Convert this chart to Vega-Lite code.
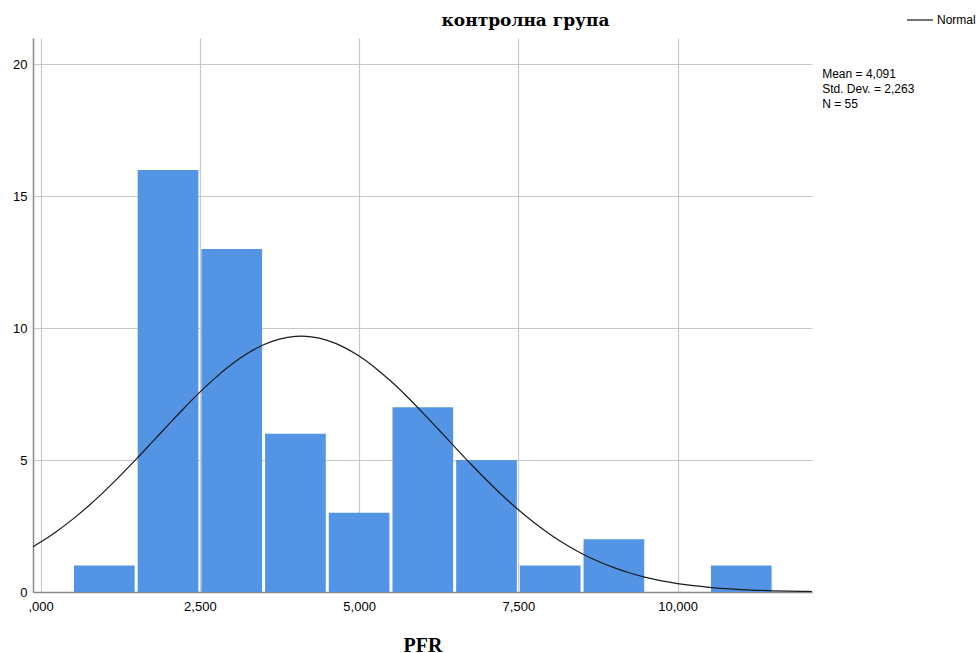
{
  "$schema": "https://vega.github.io/schema/vega-lite/v6.json",
  "width": 779,
  "height": 554,
  "autosize": {"type": "none"},
  "padding": {"left": 33, "top": 38, "right": 168, "bottom": 61},
  "background": "white",
  "title": {
    "text": "контролна група",
    "font": "DejaVu Serif",
    "fontWeight": "bold",
    "fontSize": 17,
    "color": "#000000",
    "anchor": "middle",
    "frame": "group",
    "dx": 103,
    "baseline": "alphabetic",
    "offset": -37
  },
  "config": {
    "view": {"stroke": null},
    "axis": {
      "labelFont": "Liberation Sans",
      "labelFontSize": 13,
      "labelColor": "#000000",
      "domainColor": "#8a8a8a",
      "domainWidth": 1.5,
      "gridColor": "#c8c8c8",
      "gridWidth": 1.2,
      "ticks": false
    }
  },
  "datasets": {
    "bins": [
      {"bin_start": 0.5, "bin_end": 1.5, "count": 1},
      {"bin_start": 1.5, "bin_end": 2.5, "count": 16},
      {"bin_start": 2.5, "bin_end": 3.5, "count": 13},
      {"bin_start": 3.5, "bin_end": 4.5, "count": 6},
      {"bin_start": 4.5, "bin_end": 5.5, "count": 3},
      {"bin_start": 5.5, "bin_end": 6.5, "count": 7},
      {"bin_start": 6.5, "bin_end": 7.5, "count": 5},
      {"bin_start": 7.5, "bin_end": 8.5, "count": 1},
      {"bin_start": 8.5, "bin_end": 9.5, "count": 2},
      {"bin_start": 10.5, "bin_end": 11.5, "count": 1}
    ],
    "normal": [
      {"pfr": -0.12, "freq": 1.717},
      {"pfr": 0.0, "freq": 1.892},
      {"pfr": 0.25, "freq": 2.296},
      {"pfr": 0.5, "freq": 2.753},
      {"pfr": 0.75, "freq": 3.261},
      {"pfr": 1.0, "freq": 3.816},
      {"pfr": 1.25, "freq": 4.41},
      {"pfr": 1.5, "freq": 5.034},
      {"pfr": 1.75, "freq": 5.678},
      {"pfr": 2.0, "freq": 6.327},
      {"pfr": 2.25, "freq": 6.965},
      {"pfr": 2.5, "freq": 7.574},
      {"pfr": 2.75, "freq": 8.135},
      {"pfr": 3.0, "freq": 8.632},
      {"pfr": 3.25, "freq": 9.049},
      {"pfr": 3.5, "freq": 9.371},
      {"pfr": 3.75, "freq": 9.586},
      {"pfr": 4.0, "freq": 9.688},
      {"pfr": 4.091, "freq": 9.696},
      {"pfr": 4.25, "freq": 9.672},
      {"pfr": 4.5, "freq": 9.539},
      {"pfr": 4.75, "freq": 9.293},
      {"pfr": 5.0, "freq": 8.944},
      {"pfr": 5.25, "freq": 8.504},
      {"pfr": 5.5, "freq": 7.988},
      {"pfr": 5.75, "freq": 7.412},
      {"pfr": 6.0, "freq": 6.793},
      {"pfr": 6.25, "freq": 6.151},
      {"pfr": 6.5, "freq": 5.502},
      {"pfr": 6.75, "freq": 4.862},
      {"pfr": 7.0, "freq": 4.244},
      {"pfr": 7.25, "freq": 3.659},
      {"pfr": 7.5, "freq": 3.118},
      {"pfr": 7.75, "freq": 2.624},
      {"pfr": 8.0, "freq": 2.182},
      {"pfr": 8.25, "freq": 1.791},
      {"pfr": 8.5, "freq": 1.453},
      {"pfr": 8.75, "freq": 1.165},
      {"pfr": 9.0, "freq": 0.922},
      {"pfr": 9.25, "freq": 0.721},
      {"pfr": 9.5, "freq": 0.557},
      {"pfr": 9.75, "freq": 0.425},
      {"pfr": 10.0, "freq": 0.321},
      {"pfr": 10.25, "freq": 0.239},
      {"pfr": 10.5, "freq": 0.176},
      {"pfr": 10.75, "freq": 0.128},
      {"pfr": 11.0, "freq": 0.0918},
      {"pfr": 11.25, "freq": 0.0651},
      {"pfr": 11.5, "freq": 0.0456},
      {"pfr": 11.75, "freq": 0.0316},
      {"pfr": 12.0, "freq": 0.0216},
      {"pfr": 12.11, "freq": 0.0185}
    ],
    "stats": [
      {"summary": "Mean = 4,091\nStd. Dev. = 2,263\nN = 55"}
    ]
  },
  "layer": [
    {
      "data": {"name": "bins"},
      "mark": {"type": "bar", "color": "#5394e4", "xOffset": 1.5, "x2Offset": -1.5},
      "encoding": {
        "x": {
          "field": "bin_start",
          "type": "quantitative",
          "scale": {"domain": [-0.12, 12.11], "nice": false, "zero": false, "padding": 0},
          "axis": {
            "values": [0, 2.5, 5, 7.5, 10],
            "labelExpr": "datum.value == 0 ? ',000' : replace(format(datum.value, '.3f'), '.', ',')",
            "labelPadding": 8,
            "title": "PFR",
            "titleFont": "Liberation Serif",
            "titleFontWeight": "bold",
            "titleFontSize": 20,
            "titleColor": "#000000",
            "titlePadding": 22
          }
        },
        "x2": {"field": "bin_end"},
        "y": {
          "field": "count",
          "type": "quantitative",
          "scale": {"domain": [0, 21], "nice": false, "padding": 0},
          "axis": {
            "values": [0, 5, 10, 15, 20],
            "labelPadding": 6,
            "title": null
          }
        },
        "y2": {"datum": 0}
      }
    },
    {
      "data": {"name": "normal"},
      "mark": {"type": "line", "interpolate": "monotone", "strokeWidth": 1.2},
      "encoding": {
        "x": {"field": "pfr", "type": "quantitative"},
        "y": {"field": "freq", "type": "quantitative"},
        "color": {
          "datum": "Normal",
          "type": "nominal",
          "scale": {"range": ["#1a1a1a"]},
          "legend": {
            "title": null,
            "orient": "none",
            "legendX": 873,
            "legendY": -32,
            "padding": 0,
            "symbolType": "stroke",
            "symbolSize": 676,
            "symbolStrokeWidth": 1.2,
            "labelFont": "Liberation Sans",
            "labelFontSize": 12,
            "labelColor": "#000000",
            "labelOffset": 3
          }
        }
      }
    },
    {
      "data": {"name": "stats"},
      "mark": {
        "type": "text",
        "align": "left",
        "baseline": "top",
        "lineBreak": "\n",
        "lineHeight": 15,
        "font": "Liberation Sans",
        "fontSize": 12,
        "color": "#000000"
      },
      "encoding": {
        "x": {"datum": 12.27},
        "y": {"datum": 19.83},
        "text": {"field": "summary"}
      }
    }
  ]
}
